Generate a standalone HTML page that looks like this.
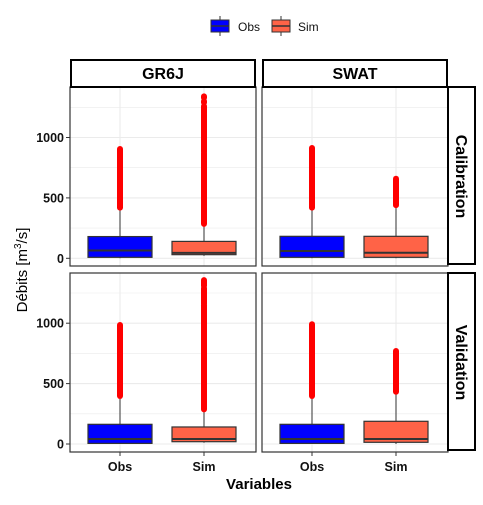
<!DOCTYPE html>
<html><head><meta charset="utf-8"><style>
body{margin:0;background:#fff;font-family:"Liberation Sans",sans-serif}
</style></head><body>
<svg id="c" width="483" height="500" xmlns="http://www.w3.org/2000/svg" font-family="Liberation Sans, sans-serif"></svg>
<script>
const models = ["GR6J","SWAT"];
const periods = ["Calibration","Validation"];
const categories = ["Obs","Sim"];
// [period][model][category] = [lower, q1, median, q3, whiskerTop]
const boxStats = [
 [ [[0,8,65,180,419],[20,30,45,140,285]], [[0,8,60,182,419],[0,8,46,182,440]] ],
 [ [[0,5,41,163,397],[10,19,41,141,287]], [[0,5,41,163,397],[0,14,41,188,433]] ]
];
// outlier ranges [lo,hi] per [period][model][category]
const outlierRanges = [
 [ [ [[419,905]], [[285,870],[880,1190],[1200,1260],[1290,1300],[1330,1340]] ],
   [ [[419,913]], [[440,659]] ] ],
 [ [ [[397,985]], [[287,1150],[1160,1290],[1310,1357]] ],
   [ [[397,991]], [[433,770]] ] ]
];
const yTicks = [0,500,1000];
const yMinor = [250,750,1250];

const svg=document.getElementById('c');
const NS='http://www.w3.org/2000/svg';
function mk(t,a,p){const e=document.createElementNS(NS,t);for(const k in a)e.setAttribute(k,a[k]);(p||svg).appendChild(e);return e;}
const colX=[70,262], pw=186;
const rowTop=[87,273], rowBot=[266,452], zeroY=[258.3,444];
const k=0.1208;
const catOff=[50,134];
const fills=["#0000FF","#FF6347"];

const leg=mk('g',{});


[[211,238,"Obs",fills[0]],[272,298,"Sim",fills[1]]].forEach(([kx,tx,l,f])=>{
 const g=mk('g',{},leg);
 
 
 mk('line',{x1:kx+9,x2:kx+9,y1:16,y2:36,stroke:'#333','stroke-width':1},g);
 mk('rect',{x:kx,y:20,width:18,height:12,fill:f,stroke:'#333','stroke-width':1},g);
 mk('line',{x1:kx,x2:kx+18,y1:26,y2:26,stroke:'#333','stroke-width':1.5},g);
 const t=mk('text',{x:tx,y:31,'font-size':12,fill:'#111'},g);t.textContent=l;
});

for(let p=0;p<2;p++){
 const y=v=>zeroY[p]-v*k;
 for(let m=0;m<2;m++){
  const x0=colX[m];
  const g=mk('g',{});
  
  
  mk('rect',{x:x0,y:rowTop[p],width:pw,height:rowBot[p]-rowTop[p],fill:'#fff'},g);
  yMinor.forEach(v=>{const yy=y(v);if(yy>rowTop[p])mk('line',{x1:x0,x2:x0+pw,y1:yy,y2:yy,stroke:'#ebebeb','stroke-width':0.6},g);});
  yTicks.forEach(v=>mk('line',{x1:x0,x2:x0+pw,y1:y(v),y2:y(v),stroke:'#ebebeb','stroke-width':1.1},g));
  catOff.forEach(o=>mk('line',{x1:x0+o,x2:x0+o,y1:rowTop[p],y2:rowBot[p],stroke:'#ebebeb','stroke-width':1.1},g));
  for(let c=0;c<2;c++){
   const s=boxStats[p][m][c], cx=x0+catOff[c];
   const b=mk('g',{},g);
   
   
   mk('line',{x1:cx,x2:cx,y1:y(s[0]),y2:y(s[4]),stroke:'#333','stroke-width':1},b);
   outlierRanges[p][m][c].forEach(r=>{
    const o=mk('line',{x1:cx,x2:cx,y1:y(r[0]),y2:y(r[1]),stroke:'#f00','stroke-width':6,'stroke-linecap':'round'},b);
    
    
   });
   mk('rect',{x:cx-32,y:y(s[3]),width:64,height:y(s[1])-y(s[3]),fill:fills[c],stroke:'#333','stroke-width':1.2},b);
   mk('line',{x1:cx-32,x2:cx+32,y1:y(s[2]),y2:y(s[2]),stroke:'#333','stroke-width':2},b);
  }
  mk('rect',{x:x0,y:rowTop[p],width:pw,height:rowBot[p]-rowTop[p],fill:'none',stroke:'#333','stroke-width':1.2},g);
 }
 yTicks.forEach(v=>{
  mk('line',{x1:66,x2:70,y1:y(v),y2:y(v),stroke:'#333','stroke-width':1});
  const t=mk('text',{x:64,y:y(v)+4.5,'font-size':12.5,'font-weight':'bold','text-anchor':'end',fill:'#111'});
  
  
  t.textContent=v;
 });
 const rs=mk('g',{});
 
 
 mk('rect',{x:448,y:rowTop[p],width:27,height:rowBot[p]-rowTop[p]-2,fill:'#fff',stroke:'#000','stroke-width':2},rs);
 const cy=(rowTop[p]+rowBot[p])/2;
 const t=mk('text',{x:456,y:cy,'font-size':16,'font-weight':'bold','text-anchor':'middle',transform:`rotate(90 456 ${cy})`},rs);
 t.textContent=periods[p];
}
for(let m=0;m<2;m++){
 const g=mk('g',{});
 
 
 mk('rect',{x:colX[m]+1,y:60,width:pw-2,height:27,fill:'#fff',stroke:'#000','stroke-width':2},g);
 const t=mk('text',{x:colX[m]+pw/2,y:79,'font-size':16,'font-weight':'bold','text-anchor':'middle'},g);
 t.textContent=models[m];
 catOff.forEach((o,c)=>{
  mk('line',{x1:colX[m]+o,x2:colX[m]+o,y1:452,y2:456,stroke:'#333','stroke-width':1});
  const l=mk('text',{x:colX[m]+o,y:471,'font-size':12.5,'font-weight':'bold','text-anchor':'middle',fill:'#111'});
  
  
  l.textContent=categories[c];
 });
}
const xt=mk('text',{x:259,y:489,'font-size':15,'font-weight':'bold','text-anchor':'middle'});


xt.textContent='Variables';
const yt=mk('text',{x:0,y:0,'font-size':15,'text-anchor':'middle',transform:'translate(27 270) rotate(-90)'});


yt.innerHTML='Débits [m<tspan dy="-6" font-size="10">3</tspan><tspan dy="6">/s]</tspan>';
</script>
</body></html>
